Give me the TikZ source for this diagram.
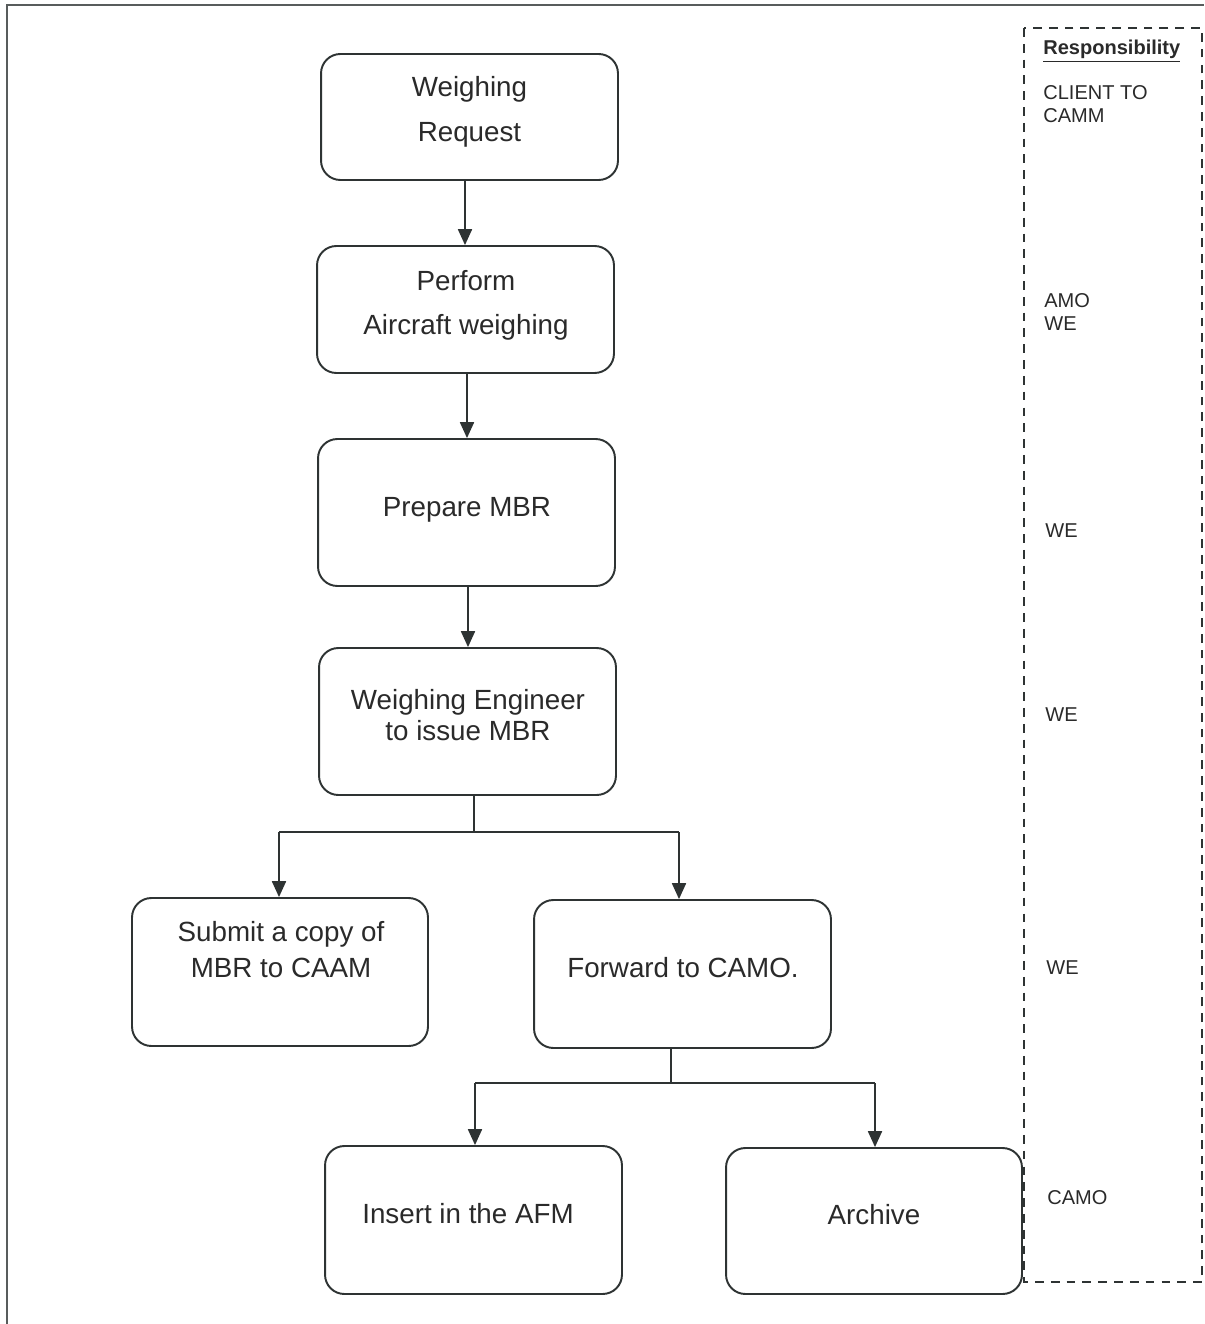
\documentclass[tikz,border=0pt]{standalone}
\usepackage{fontspec}
\setmainfont{Liberation Sans}
\usetikzlibrary{arrows.meta}
\definecolor{linec}{HTML}{2E3333}
\definecolor{textc}{HTML}{2A2A2A}
\begin{document}
\begin{tikzpicture}[x=0.02cm,y=-0.02cm,
  box/.style={draw=linec, line width=1.1pt, rounded corners=11pt, inner sep=0pt, minimum width=5.94cm},
  conn/.style={draw=linec, line width=0.8pt},
  arr/.style={conn, -{Triangle[width=8pt,length=9pt]}},
  txt/.style={anchor=base, inner sep=0pt, font=\fontsize{15.8}{19}\selectfont, text=textc},
  side/.style={anchor=base west, inner sep=0pt, font=\fontsize{11.4}{13}\selectfont, text=textc}]
\useasboundingbox (0,0) rectangle (1204,1324);
\fill[white] (0,0) rectangle (1204,1324);
% outer frame
\draw[draw=linec!80, line width=1.1pt] (7,1324) -- (7,5) -- (1204,5);
% responsibility column
\draw[draw=linec, line width=0.9pt, dash pattern=on 5pt off 4pt] (1024,28) rectangle (1202,1282);
\node[side, font=\fontsize{11.4}{13}\selectfont\bfseries] (resp) at (1043,55) {\underline{Responsibility}};
\node[side] (r1a) at (1043,100) {CLIENT TO};
\node[side] (r1b) at (1043,123) {CAMM};
\node[side] (r2a) at (1044,308) {AMO};
\node[side] (r2b) at (1044,330) {WE};
\node[side] (r3) at (1045,537) {WE};
\node[side] (r4) at (1045,721) {WE};
\node[side] (r5) at (1046,974) {WE};
\node[side] (r6) at (1047,1204) {CAMO};
% boxes
\node[box, minimum height=2.52cm] (b1) at (469.5,117) {};
\node[box, minimum height=2.54cm] (b2) at (465.5,309.5) {};
\node[box, minimum height=2.94cm] (b3) at (466.5,512.5) {};
\node[box, minimum height=2.94cm] (b4) at (467.5,721.5) {};
\node[box, minimum height=2.96cm, minimum width=5.92cm] (b5) at (280,972) {};
\node[box, minimum height=2.96cm] (b6) at (682.5,974) {};
\node[box, minimum height=2.96cm] (b7) at (473.5,1220) {};
\node[box, minimum height=2.92cm, minimum width=5.92cm] (b8) at (874,1221) {};
% box texts
\node[txt] (t1a) at (469.5,97) {Weighing};
\node[txt] (t1b) at (469.5,142) {Request};
\node[txt] (t2a) at (466,291) {Perform};
\node[txt] (t2b) at (466,335) {Aircraft weighing};
\node[txt] (t3) at (467,516) {Prepare MBR};
\node[txt] (t4a) at (468,709) {Weighing Engineer};
\node[txt] (t4b) at (468,740) {to issue MBR};
\node[txt] (t5a) at (281,941) {Submit a copy of};
\node[txt] (t5b) at (281,977) {MBR to CAAM};
\node[txt] (t6) at (683,977) {Forward to CAMO.};
\node[txt] (t7) at (468,1223) {Insert in the AFM};
\node[txt] (t8) at (874,1224) {Archive};
% connector helpers
\coordinate (x1) at (465,0);
\coordinate (x2) at (467,0);
\coordinate (x3) at (468,0);
\coordinate (j1) at (474,832);
\coordinate (j2) at (671,1083);
\coordinate (x5) at (279,0);
\coordinate (x6) at (679,0);
\coordinate (x7) at (475,0);
\coordinate (x8) at (875,0);
% connectors
\draw[arr] (b1.south -| x1) -- (b2.north -| x1);
\draw[arr] (b2.south -| x2) -- (b3.north -| x2);
\draw[arr] (b3.south -| x3) -- (b4.north -| x3);
\draw[conn] (b4.south -| j1) -- (j1);
\draw[conn] (x5 |- j1) -- (x6 |- j1);
\draw[arr] (x5 |- j1) -- (b5.north -| x5);
\draw[arr] (x6 |- j1) -- (b6.north -| x6);
\draw[conn] (b6.south -| j2) -- (j2);
\draw[conn] (x7 |- j2) -- (x8 |- j2);
\draw[arr] (x7 |- j2) -- (b7.north -| x7);
\draw[arr] (x8 |- j2) -- (b8.north -| x8);
\end{tikzpicture}
\end{document}
